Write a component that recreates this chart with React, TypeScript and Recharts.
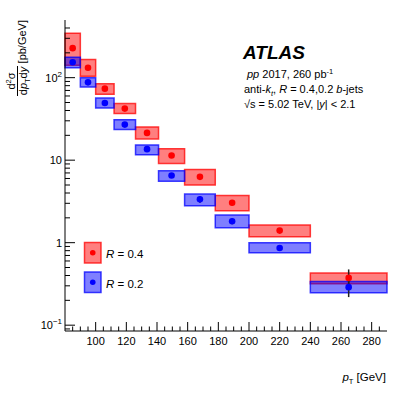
import React from "react";
import { ComposedChart, XAxis, YAxis, Scatter, ErrorBar, ReferenceArea } from "recharts";

const FONT = "'Liberation Sans', Arial, Helvetica, sans-serif";

// pT bins [GeV]
const binLow = [80, 90, 100, 112, 126, 141, 158, 178, 200, 240];
const binHigh = [90, 100, 112, 126, 141, 158, 178, 200, 240, 290];

// R = 0.4 cross-section [pb/GeV]
const r04Value = [228, 132, 73.6, 42.2, 21.4, 11.4, 6.28, 3.05, 1.4, 0.374];
const r04SysLow = [141, 104, 62.8, 36.7, 18.1, 9.12, 4.99, 2.44, 1.18, 0.317];
const r04SysHigh = [346, 166, 84.6, 48.5, 25.3, 13.8, 7.72, 3.74, 1.64, 0.43];
const r04Stat = [2, 1.5, 0.8, 0.5, 0.3, 0.25, 0.3, 0.2, 0.1, 0.1];

// R = 0.2 cross-section [pb/GeV]
const r02Value = [154, 87.7, 49.3, 27.0, 13.6, 6.53, 3.35, 1.82, 0.863, 0.289];
const r02SysLow = [132, 76.9, 42.9, 23.5, 11.6, 5.57, 2.8, 1.52, 0.757, 0.248];
const r02SysHigh = [177, 100, 56.6, 31.0, 15.3, 7.43, 3.88, 2.16, 1.0, 0.338];
const r02Stat = [1.5, 1, 0.5, 0.3, 0.2, 0.2, 0.3, 0.15, 0.07, 0.07];

const xTicks = [
  85, 90, 95, 100, 105, 110, 115, 120, 125, 130, 135, 140, 145, 150, 155, 160, 165, 170,
  175, 180, 185, 190, 195, 200, 205, 210, 215, 220, 225, 230, 235, 240, 245, 250, 255,
  260, 265, 270, 275, 280, 285,
];
const xMajor = [100, 120, 140, 160, 180, 200, 220, 240, 260, 280];
const yTicks = [
  0.09, 0.1, 0.2, 0.3, 0.4, 0.5, 0.6, 0.7, 0.8, 0.9, 1, 2, 3, 4, 5, 6, 7, 8, 9, 10, 20, 30,
  40, 50, 60, 70, 80, 90, 100, 200, 300, 400,
];
const yMajor = [0.1, 1, 10, 100];

const makePoints = (vals: number[], stat: number[]) =>
  vals.map((v, i) => ({
    x: (binLow[i] + binHigh[i]) / 2,
    y: v,
    err: stat[i],
  }));

const r04Points = makePoints(r04Value, r04Stat);
const r02Points = makePoints(r02Value, r02Stat);

const BottomTick = (props: any) => {
  const { x, y, payload } = props;
  const major = xMajor.includes(payload.value);
  return (
    <g>
      <line x1={x} x2={x} y1={y} y2={y - (major ? 9 : 4.5)} stroke="#000" />
      {major && (
        <text x={x} y={y + 14} textAnchor="middle" fontSize={11} fontFamily={FONT} fill="#000">
          {payload.value}
        </text>
      )}
    </g>
  );
};

const TopTick = (props: any) => {
  const { x, y, payload } = props;
  const major = xMajor.includes(payload.value);
  return <line x1={x} x2={x} y1={y} y2={y + (major ? 9 : 4.5)} stroke="#000" />;
};

const yLabel = (v: number) => {
  if (v === 100) return ["10", "2"];
  if (v === 10) return ["10", ""];
  if (v === 1) return ["1", ""];
  return ["10", "\u22121"];
};

const LeftTick = (props: any) => {
  const { x, y, payload } = props;
  const major = yMajor.includes(payload.value);
  const [base, sup] = yLabel(payload.value);
  return (
    <g>
      <line x1={x} x2={x + (major ? 10 : 5)} y1={y} y2={y} stroke="#000" />
      {major && (
        <text x={x - 3} y={y + 4} textAnchor="end" fontSize={11} fontFamily={FONT} fill="#000">
          {base}
          {sup && (
            <tspan dy={-5} fontSize={8}>
              {sup}
            </tspan>
          )}
        </text>
      )}
    </g>
  );
};

const RightTick = (props: any) => {
  const { x, y, payload } = props;
  const major = yMajor.includes(payload.value);
  return <line x1={x} x2={x - (major ? 10 : 5)} y1={y} y2={y} stroke="#000" />;
};

const dot = (color: string) => (props: any) =>
  <circle cx={props.cx} cy={props.cy} r={3.3} fill={color} />;

export default function App() {
  return (
    <div style={{ position: "absolute", left: 0, top: 0, width: 407, height: 396, background: "#fff" }}>
      <ComposedChart
        width={407}
        height={396}
        margin={{ top: 20, right: 20, bottom: 0, left: 0 }}
      >
        <XAxis
          xAxisId="b"
          dataKey="x"
          type="number"
          domain={[80, 290]}
          allowDataOverflow
          ticks={xTicks}
          interval={0}
          tick={<BottomTick />}
          tickLine={false}
          tickSize={0}
          tickMargin={0}
          height={65}
          axisLine={{ stroke: "#000" }}
        />
        <XAxis
          xAxisId="t"
          orientation="top"
          dataKey="x"
          type="number"
          domain={[80, 290]}
          allowDataOverflow
          ticks={xTicks}
          interval={0}
          tick={<TopTick />}
          tickLine={false}
          tickSize={0}
          tickMargin={0}
          height={0}
          axisLine={{ stroke: "#000" }}
        />
        <YAxis
          yAxisId="l"
          dataKey="y"
          type="number"
          scale="log"
          domain={[0.085, 500]}
          allowDataOverflow
          ticks={yTicks}
          interval={0}
          tick={<LeftTick />}
          tickLine={false}
          tickSize={0}
          tickMargin={0}
          width={65}
          axisLine={{ stroke: "#000" }}
        />
        <YAxis
          yAxisId="r"
          orientation="right"
          dataKey="y"
          type="number"
          scale="log"
          domain={[0.085, 500]}
          allowDataOverflow
          ticks={yTicks}
          interval={0}
          tick={<RightTick />}
          tickLine={false}
          tickSize={0}
          tickMargin={0}
          width={0}
          axisLine={{ stroke: "#000" }}
        />
        {binLow.map((lo, i) => (
          <ReferenceArea
            key={"r" + i}
            xAxisId="b"
            yAxisId="l"
            x1={lo}
            x2={binHigh[i]}
            y1={r04SysLow[i]}
            y2={r04SysHigh[i]}
            fill="#ff0000"
            fillOpacity={0.5}
            stroke="#ff0000"
            strokeOpacity={0.75}
            strokeWidth={1.5}
            ifOverflow="visible"
          />
        ))}
        {binLow.map((lo, i) => (
          <ReferenceArea
            key={"b" + i}
            xAxisId="b"
            yAxisId="l"
            x1={lo}
            x2={binHigh[i]}
            y1={r02SysLow[i]}
            y2={r02SysHigh[i]}
            fill="#0000ff"
            fillOpacity={0.5}
            stroke="#0000ff"
            strokeOpacity={0.75}
            strokeWidth={1.5}
            ifOverflow="visible"
          />
        ))}
        <Scatter
          xAxisId="b"
          yAxisId="l"
          data={r04Points}
          shape={dot("#ff0000")}
          isAnimationActive={false}
        >
          <ErrorBar dataKey="err" direction="y" width={0} stroke="#222" strokeWidth={1.5} />
        </Scatter>
        <Scatter
          xAxisId="b"
          yAxisId="l"
          data={r02Points}
          shape={dot("#0000ff")}
          isAnimationActive={false}
        >
          <ErrorBar dataKey="err" direction="y" width={0} stroke="#222" strokeWidth={1.5} />
        </Scatter>
      </ComposedChart>

      <svg
        width={407}
        height={396}
        style={{ position: "absolute", left: 0, top: 0, pointerEvents: "none" }}
        fontFamily={FONT}
      >
        <text x={243} y={59} fontSize={19} fontWeight="bold" fontStyle="italic">
          ATLAS
        </text>
        <text x={247} y={78} fontSize={11}>
          <tspan fontStyle="italic">pp</tspan> 2017, 260 pb
          <tspan dy={-4} fontSize={7.5}>
            -1
          </tspan>
        </text>
        <text x={244} y={93} fontSize={11}>
          anti-<tspan fontStyle="italic">k</tspan>
          <tspan dy={3} fontSize={7.5} fontStyle="italic">
            t
          </tspan>
          <tspan dy={-3}>, </tspan>
          <tspan fontStyle="italic">R</tspan> = 0.4,0.2 <tspan fontStyle="italic">b</tspan>-jets
        </text>
        <text x={244} y={108} fontSize={11}>
          {"\u221As = 5.02 TeV, |"}
          <tspan fontStyle="italic">y</tspan>| &lt; 2.1
        </text>

        {/* legend */}
        <rect x={84.5} y={242.5} width={16.5} height={20.5} fill="#ff0000" fillOpacity={0.5} stroke="#ff0000" strokeOpacity={0.75} strokeWidth={1.5} />
        <circle cx={92.75} cy={252.75} r={2.8} fill="#ff0000" />
        <text x={106} y={258} fontSize={11.5}>
          <tspan fontStyle="italic">R</tspan> = 0.4
        </text>
        <rect x={84.5} y={272} width={16.5} height={20.5} fill="#0000ff" fillOpacity={0.5} stroke="#0000ff" strokeOpacity={0.75} strokeWidth={1.5} />
        <circle cx={92.75} cy={282.25} r={2.8} fill="#0000ff" />
        <text x={106} y={287.5} fontSize={11.5}>
          <tspan fontStyle="italic">R</tspan> = 0.2
        </text>

        {/* x title */}
        <text x={386} y={381} fontSize={11.5} textAnchor="end">
          <tspan fontStyle="italic">p</tspan>
          <tspan dy={3} fontSize={7.5}>
            T
          </tspan>
          <tspan dy={-3}> [GeV]</tspan>
        </text>

        {/* y title */}
        <g transform="rotate(-90)">
          <text x={-20} y={26} fontSize={11} textAnchor="end">
            [pb/GeV]
          </text>
          <text x={-81} y={15} fontSize={11} textAnchor="middle">
            d
            <tspan dy={-4} fontSize={7.5}>
              2
            </tspan>
            <tspan dy={4}>{"\u03C3"}</tspan>
          </text>
          <line x1={-96} x2={-66} y1={17.5} y2={17.5} stroke="#000" strokeWidth={1} />
          <text x={-81} y={27} fontSize={11} textAnchor="middle">
            d<tspan fontStyle="italic">p</tspan>
            <tspan dy={3} fontSize={7.5}>
              T
            </tspan>
            <tspan dy={-3}>d</tspan>
            <tspan fontStyle="italic">y</tspan>
          </text>
        </g>
      </svg>
    </div>
  );
}
